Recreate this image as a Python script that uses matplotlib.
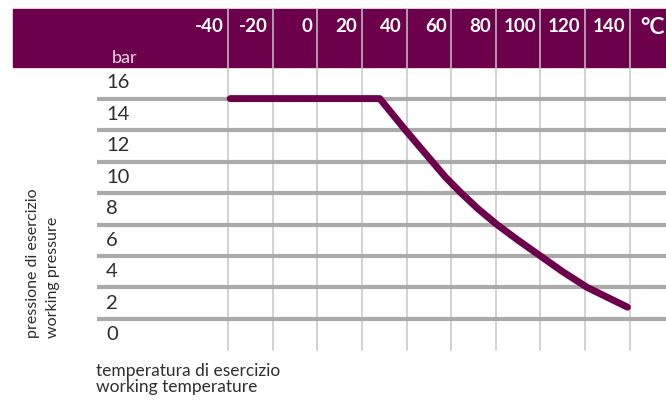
import matplotlib.pyplot as plt
from matplotlib.patches import Rectangle

# data
temp_ticks = [-40, -20, 0, 20, 40, 60, 80, 100, 120, 140]
pressure_ticks = [0, 2, 4, 6, 8, 10, 12, 14, 16]
grid_levels = [1, 3, 5, 7, 9, 11, 13, 15]
temperature = [-39, 28, 39.5, 51.5, 57.5, 64.5, 72, 80.5, 90, 100, 110, 121, 139]
pressure = [15, 15, 13, 11, 10, 9, 8, 7, 6, 5, 4, 3, 1.75]

purple = "#6d004b"
font = ["Lato", "DejaVu Sans"]

# pixel -> data helpers (x: 228px = -40 C, 2.2317 px/C ; y: 334.7px = 0 bar, 15.74 px/bar)
def px_x(p):
    return -40 + (p - 228) / 2.2317


def px_y(p):
    return (334.7 - p) / 15.74


fig = plt.figure(figsize=(6.66, 4.18), dpi=100)
ax = fig.add_axes([0, 0, 1, 1])
ax.set_xlim(px_x(0), px_x(666))
ax.set_ylim(px_y(418), px_y(0))
ax.axis("off")

# header band
ax.add_patch(Rectangle((px_x(13), px_y(66.7)), px_x(666) - px_x(13),
                       px_y(9) - px_y(66.7), color=purple, zorder=1))

# vertical grid lines
for t in temp_ticks:
    ax.plot([t, t], [px_y(350), px_y(9)], color="#c6c6c6", lw=1.1, zorder=2)

# horizontal grid lines
for g in grid_levels:
    ax.plot([px_x(97), px_x(666)], [g, g], color="#aaaaaa", lw=3.0,
            solid_capstyle="butt", zorder=3)

# curve
ax.plot(temperature, pressure, color=purple, lw=5, solid_capstyle="round",
        solid_joinstyle="round", zorder=4)

# header labels
for t in temp_ticks:
    ax.text(t - 4.5 / 2.2317, px_y(27), str(t), ha="right", va="center",
            color="white", fontsize=13.5, fontweight="bold", family=font, zorder=5)
ax.text(px_x(640), px_y(28), "°C", ha="left", va="center", color="white",
        fontsize=16.5, fontweight="bold", family=font, zorder=5)
ax.text(px_x(112), px_y(63), "bar", ha="left", va="baseline", color="#ecd6e6",
        fontsize=13, family=font, zorder=5)

# pressure labels
for p in pressure_ticks:
    ax.text(px_x(106), p, str(p), ha="left", va="center", color="#2e2e2e",
            fontsize=14.5, family=font, zorder=5)

# axis titles
ax.text(px_x(43), px_y(338), "pressione di esercizio\nworking pressure",
        rotation=90, rotation_mode="anchor", ha="left", va="center",
        multialignment="left", color="#2e2e2e", fontsize=11.5, family=font,
        linespacing=1.5)
ax.text(px_x(96), px_y(363), "temperatura di esercizio\nworking temperature",
        ha="left", va="top", color="#2e2e2e", fontsize=12.5, family=font,
        linespacing=0.98)

fig.savefig("out.png", dpi=100)
